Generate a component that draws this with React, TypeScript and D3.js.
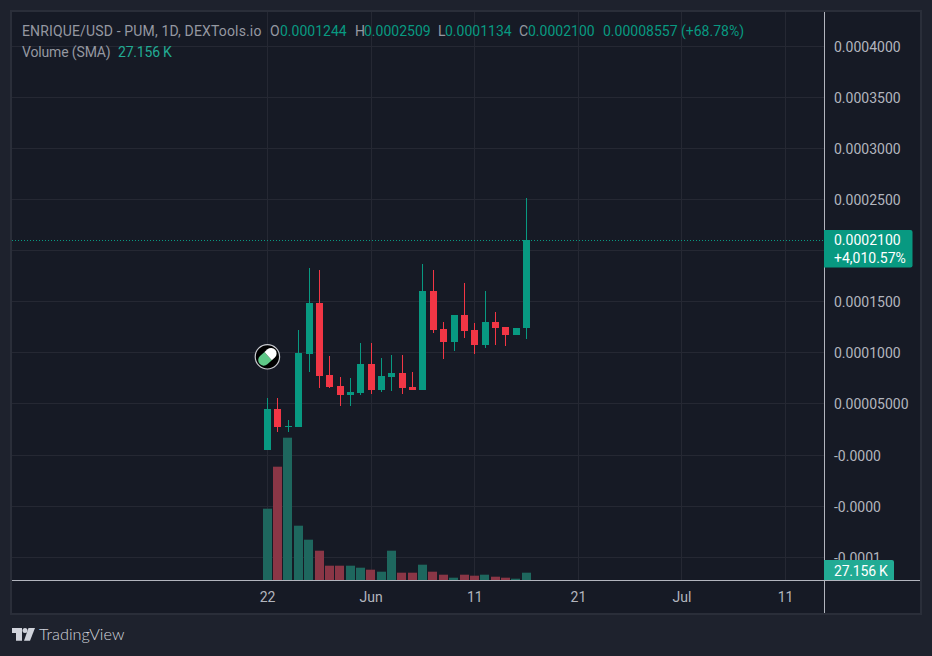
import React from "react";
import * as d3 from "d3";

const startDate = Date.UTC(2024, 4, 22);
const DAY = 86400000;
const opens = [0.49, 4.5, 2.74, 2.74, 9.87, 14.86, 7.82, 6.75, 5.86, 6.06, 8.9, 6.35, 7.62, 8.02, 6.65, 6.35, 16.03, 12.32, 11.05, 13.69, 12.22, 10.75, 13.0, 12.51, 11.73, 12.44];
const highs = [5.57, 5.57, 3.42, 12.22, 18.28, 18.09, 9.68, 7.62, 7.53, 10.95, 10.95, 9.48, 9.78, 9.78, 8.11, 18.67, 18.09, 13.0, 13.69, 16.82, 12.91, 16.03, 13.98, 12.51, 12.42, 25.09];
const lows = [0.49, 2.25, 2.25, 2.74, 8.11, 6.55, 6.55, 4.79, 4.79, 5.86, 5.96, 6.16, 6.26, 5.96, 6.35, 6.35, 11.93, 9.38, 10.17, 11.44, 9.87, 10.46, 10.75, 10.66, 11.73, 11.34];
const closes = [4.5, 2.74, 2.83, 9.97, 14.86, 7.72, 6.65, 5.86, 6.16, 8.9, 6.35, 7.72, 8.02, 6.55, 6.35, 16.03, 12.22, 11.05, 13.69, 12.12, 10.75, 13.0, 12.42, 11.73, 12.42, 21.0];
const volumesK = [71.3, 113.3, 142.3, 54.3, 40.3, 29.3, 14.3, 14.3, 14.3, 12.3, 10.3, 8.3, 29.3, 7.3, 7.3, 15.3, 8.3, 5.3, 2.3, 5.3, 4.3, 5.3, 3.3, 2.3, 1.3, 7.3];
const priceTicks = [40, 35, 30, 25, 20, 15, 10, 5, 0, -5, -10];
const priceLabels = ["0.0004000", "0.0003500", "0.0003000", "0.0002500", "0.0002000", "0.0001500", "0.0001000", "0.00005000", "-0.0000", "-0.0000", "-0.0001"];
const timeTicks = [
  { label: "22", date: Date.UTC(2024, 4, 22) },
  { label: "Jun", date: Date.UTC(2024, 5, 1) },
  { label: "11", date: Date.UTC(2024, 5, 11) },
  { label: "21", date: Date.UTC(2024, 5, 21) },
  { label: "Jul", date: Date.UTC(2024, 6, 1) },
  { label: "11", date: Date.UTC(2024, 6, 11) },
];
const lastClose = 21.0;

const FONT = "Roboto, sans-serif";
const UP = "#089981";
const DOWN = "#f23645";
const VUP = "#1e675e";
const VDOWN = "#8a3646";
const GRID = "#252833";
const AXIS = "#b2b5be";
const LEFT = 12;
const RIGHT = 824;
const BASE = 580;

const x = d3.scaleUtc().domain([startDate, startDate + 10 * DAY]).range([267.6, 371.2]);
const y = d3.scaleLinear().domain([40, 0]).range([46, 455]);
const yVol = d3.scaleLinear().domain([0, 150]).range([BASE, BASE - 150]);

const crisp = (v: number) => Math.floor(v) + 0.5;

export default function App() {
  const price = crisp(y(lastClose));
  return (
    <svg width={932} height={656} style={{ position: "fixed", left: 0, top: 0, display: "block" }} fontFamily={FONT}>
      <rect width={932} height={656} fill="#1e222d" />
      <rect x={11} y={11} width={910} height={603} fill="#161a25" stroke="#2a2e39" strokeWidth={2} />
      {priceTicks.map((t) => (
        <line key={t} x1={LEFT} x2={RIGHT} y1={crisp(y(t))} y2={crisp(y(t))} stroke={GRID} />
      ))}
      {timeTicks.map((t, i) => (
        <line key={i} x1={crisp(x(t.date))} x2={crisp(x(t.date))} y1={12} y2={BASE} stroke={GRID} />
      ))}
      {volumesK.map((v, i) => {
        const left = Math.floor(x(startDate + i * DAY) - 4.4);
        return (
          <rect key={i} x={left} width={9} y={yVol(v)} height={BASE - yVol(v)} fill={closes[i] >= opens[i] ? VUP : VDOWN} />
        );
      })}
      <line x1={LEFT} x2={RIGHT} y1={price} y2={price} stroke={UP} strokeDasharray="1 2" />
      {opens.map((o, i) => {
        const c = closes[i];
        const color = c >= o ? UP : DOWN;
        const cx = Math.floor(x(startDate + i * DAY));
        const top = Math.round(y(Math.max(o, c)));
        const bot = Math.round(y(Math.min(o, c)));
        return (
          <g key={i}>
            <rect x={cx} width={1} y={Math.round(y(highs[i]))} height={Math.round(y(lows[i])) - Math.round(y(highs[i]))} fill={color} />
            <rect x={cx - 3} width={7} y={top} height={Math.max(1, bot - top)} fill={color} />
          </g>
        );
      })}
      <g transform="translate(267.4,356.8)">
        <circle r={12.2} fill="#000" stroke="#c8cad0" strokeWidth={1.2} />
        <g transform="rotate(-42)">
          <path d="M1,-5.5 H-5 A5.5,5.5 0 0 0 -5,5.5 H1 Z" fill="#5fc888" />
          <path d="M1,-5.5 H5 A5.5,5.5 0 0 1 5,5.5 H1 Z" fill="#fff" />
        </g>
      </g>
      <line x1={RIGHT + 0.5} x2={RIGHT + 0.5} y1={12} y2={613} stroke={AXIS} />
      <line x1={LEFT} x2={920} y1={BASE + 0.5} y2={BASE + 0.5} stroke={AXIS} />
      <g fontSize={14} fill={AXIS} dominantBaseline="central">
        {priceTicks.map((t, i) => (
          <text key={i} x={834} y={y(t) + 0.5}>{priceLabels[i]}</text>
        ))}
        {timeTicks.map((t, i) => (
          <text key={i} x={x(t.date)} y={596.5} textAnchor="middle">{t.label}</text>
        ))}
      </g>
      <g fontSize={14} dominantBaseline="central" fill="#9598a1">
        <text x={22} y={30.5} letterSpacing={0.15}>ENRIQUE/USD - PUM, 1D, DEXTools.io</text>
        <text x={22} y={51.5} letterSpacing={-0.15}>Volume (SMA)</text>
        <text x={118} y={51.5} fill="#22ab94" letterSpacing={-0.2}>27.156 K</text>
        <text x={270} y={30.5}>O</text>
        <text x={280} y={30.5} fill={UP}>0.0001244</text>
        <text x={355} y={30.5}>H</text>
        <text x={364} y={30.5} fill={UP}>0.0002509</text>
        <text x={438} y={30.5}>L</text>
        <text x={445} y={30.5} fill={UP}>0.0001134</text>
        <text x={519} y={30.5}>C</text>
        <text x={528} y={30.5} fill={UP}>0.0002100</text>
        <text x={603} y={30.5} fill={UP}>0.00008557</text>
        <text x={681} y={30.5} fill={UP}>(+68.78%)</text>
      </g>
      <path d={`M${RIGHT},230 H910.5 a2,2 0 0 1 2,2 V265.5 a2,2 0 0 1 -2,2 H${RIGHT} Z`} fill={UP} />
      <g fontSize={14} fill="#fff" dominantBaseline="central">
        <text x={834} y={240}>0.0002100</text>
        <text x={834} y={257.5}>+4,010.57%</text>
      </g>
      <path d={`M${RIGHT},560 H892 a2,2 0 0 1 2,2 V580 H${RIGHT} Z`} fill="#22ab94" />
      <text x={834} y={570.5} fontSize={14} fill="#fff" letterSpacing={-0.2} dominantBaseline="central">27.156 K</text>
      <g fill="#d1d4dc">
        <path d="M12,628 H22 V640.7 H16 V633 H12 Z" />
        <circle cx={25} cy={630.5} r={2.5} />
        <path d="M28.5,628 H35 L30,640.7 H24 Z" />
      </g>
      <text x={39} y={640} fontSize={16.3} fontWeight={300} fill="#d1d4dc" fontFamily="Lato, sans-serif">TradingView</text>
    </svg>
  );
}
